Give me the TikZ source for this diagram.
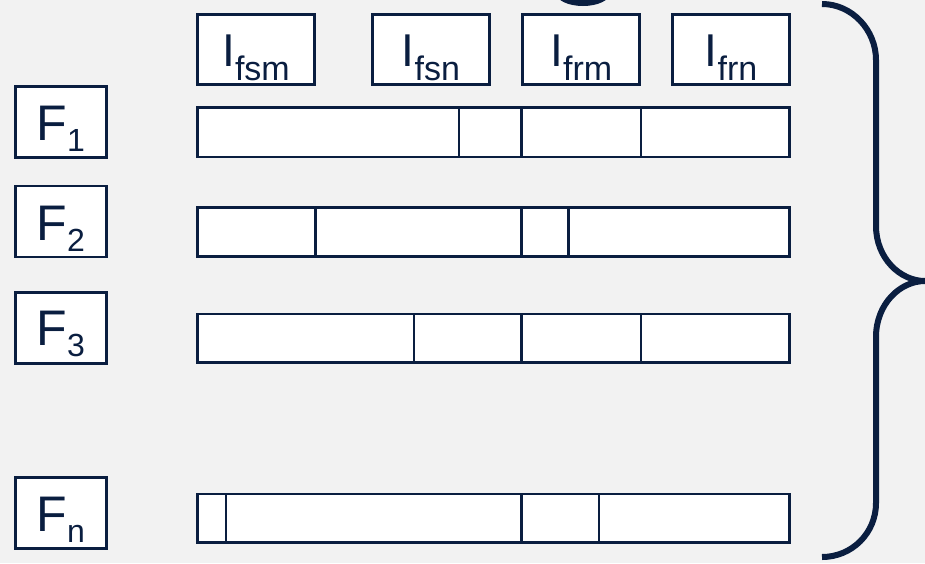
\documentclass[tikz,border=0pt]{standalone}
\usepackage{fontspec}
\setmainfont{Liberation Sans}
\definecolor{navy}{HTML}{0A1E40}
\definecolor{bgc}{HTML}{F2F2F2}
\newcommand{\Ilab}[1]{{\fontsize{46}{46}\selectfont I\raisebox{-13.3pt}{\fontsize{34}{34}\selectfont #1}}}
\newcommand{\Flab}[1]{{\fontsize{50}{50}\selectfont F\raisebox{-11pt}{\fontsize{32}{32}\selectfont #1}}}
\begin{document}
\begin{tikzpicture}[x=1pt,y=-1pt,
  boxst/.style={draw=navy,fill=white,line width=2.8pt,inner sep=0pt,rectangle},
  topbox/.style={boxst,minimum width=117pt,minimum height=70pt},
  fbox/.style={boxst,minimum width=90.7pt,minimum height=71pt},
  lbl/.style={text=navy,inner sep=0pt,anchor=base},
  barst/.style={draw=navy,fill=white,line width=2.8pt},
  divst/.style={draw=navy,line width=2.8pt},
  bracest/.style={draw=navy,line width=6pt}]
\fill[bgc] (0,0) rectangle (925,563);
\useasboundingbox (0,0) rectangle (925,563);
% partial letter at top
\begin{scope}
\clip (0,0) rectangle (925,563);
\fill[navy] (583,-7) ellipse [x radius=27pt, y radius=13pt];
\end{scope}
% top boxes
\node[topbox] (bfsm) at (256,49.7) {};
\node[topbox] (bfsn) at (431,49.7) {};
\node[topbox] (bfrm) at (581.3,49.7) {};
\node[topbox] (bfrn) at (731,49.7) {};
\node[lbl] (tfsm) at (256,66.7) {\Ilab{fsm}};
\node[lbl] (tfsn) at (431,66.7) {\Ilab{fsn}};
\node[lbl] (tfrm) at (581.3,66.7) {\Ilab{frm}};
\node[lbl] (tfrn) at (731,66.7) {\Ilab{frn}};
% F boxes
\node[fbox] (bf1) at (60.8,121.8) {};
\node[fbox] (bf2) at (60.8,221.5) {};
\node[fbox] (bf3) at (60.8,328) {};
\node[fbox] (bfn) at (60.8,512.8) {};
\node[lbl] (tf1) at (60.8,140.7) {\Flab{1}};
\node[lbl] (tf2) at (60.8,240.7) {\Flab{2}};
\node[lbl] (tf3) at (60.8,345.7) {\Flab{3}};
\node[lbl] (tfn) at (60.8,531) {\Flab{n}};
% bars
\draw[barst] (197.5,107.5) rectangle (789.5,157);
\draw[divst] (459,107.5) -- (459,157);
\draw[divst] (521.5,107.5) -- (521.5,157);
\draw[divst] (641,107.5) -- (641,157);
\draw[barst] (197.5,207.5) rectangle (789.5,256.5);
\draw[divst] (315.7,207.5) -- (315.7,256.5);
\draw[divst] (521.7,207.5) -- (521.7,256.5);
\draw[divst] (568.3,207.5) -- (568.3,256.5);
\draw[barst] (197.5,314) rectangle (789.5,362.5);
\draw[divst] (414,314) -- (414,362.5);
\draw[divst] (521.7,314) -- (521.7,362.5);
\draw[divst] (641,314) -- (641,362.5);
\draw[barst] (197.5,494) rectangle (789.5,542.5);
\draw[divst] (226,494) -- (226,542.5);
\draw[divst] (521.7,494) -- (521.7,542.5);
\draw[divst] (599,494) -- (599,542.5);
% brace
\draw[bracest] (822,4) .. controls (852,4) and (876,30) .. (876,60)
  -- (876,226) .. controls (876,258) and (900,281) .. (925,281)
  .. controls (900,281) and (876,304) .. (876,337)
  -- (876,503) .. controls (876,533) and (852,557) .. (822,557);
\end{tikzpicture}
\end{document}
